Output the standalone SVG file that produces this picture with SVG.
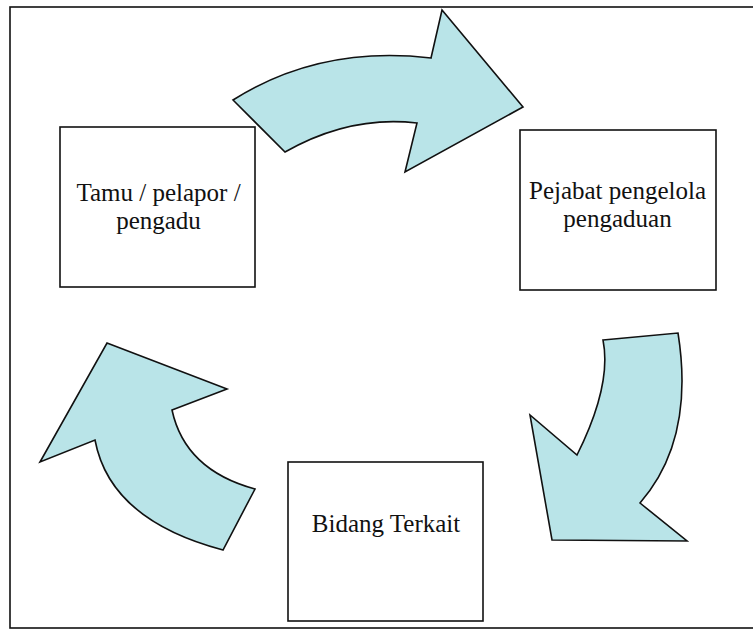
<svg xmlns="http://www.w3.org/2000/svg" width="753" height="631" viewBox="0 0 753 631">
<style>
.box{fill:#fff;stroke:#111;stroke-width:1.6}
.arrow{fill:#b9e4e8;stroke:#111;stroke-width:1.6;stroke-linejoin:miter}
text{font-family:'Liberation Serif','Times New Roman',serif;font-size:25px;fill:#111;text-anchor:middle}
</style>
<rect x="0" y="0" width="753" height="631" fill="#fff"/>
<rect x="10" y="7" width="760" height="621" fill="none" stroke="#111" stroke-width="1.6"/>
<g id="connectors">
<path class="arrow" d="M233,100 Q320,45 431,58 L442,10 L523,107 L405,172 L417,123 Q350,115 285,152 Z"/>
<path class="arrow" d="M603,340 L678,333 Q695,440 640,503 L687,541 L552,540 L530,415 L577,455 Q612,385 603,340 Z"/>
<path class="arrow" d="M107,343 L227,389 L172,410 Q185,470 255,489 L223,550 Q110,520 95,440 L40,462 Z"/>
</g>
<g id="node-tamu">
<rect class="box" x="60" y="127" width="195" height="160"/>
<text x="158.5" y="201">Tamu / pelapor /</text>
<text x="158.5" y="229">pengadu</text>
</g>
<g id="node-pejabat">
<rect class="box" x="520" y="130" width="196" height="160"/>
<text x="617.5" y="199">Pejabat pengelola</text>
<text x="617.5" y="227">pengaduan</text>
</g>
<g id="node-bidang">
<rect class="box" x="288" y="462" width="195" height="159"/>
<text x="386" y="532">Bidang Terkait</text>
</g>
</svg>
